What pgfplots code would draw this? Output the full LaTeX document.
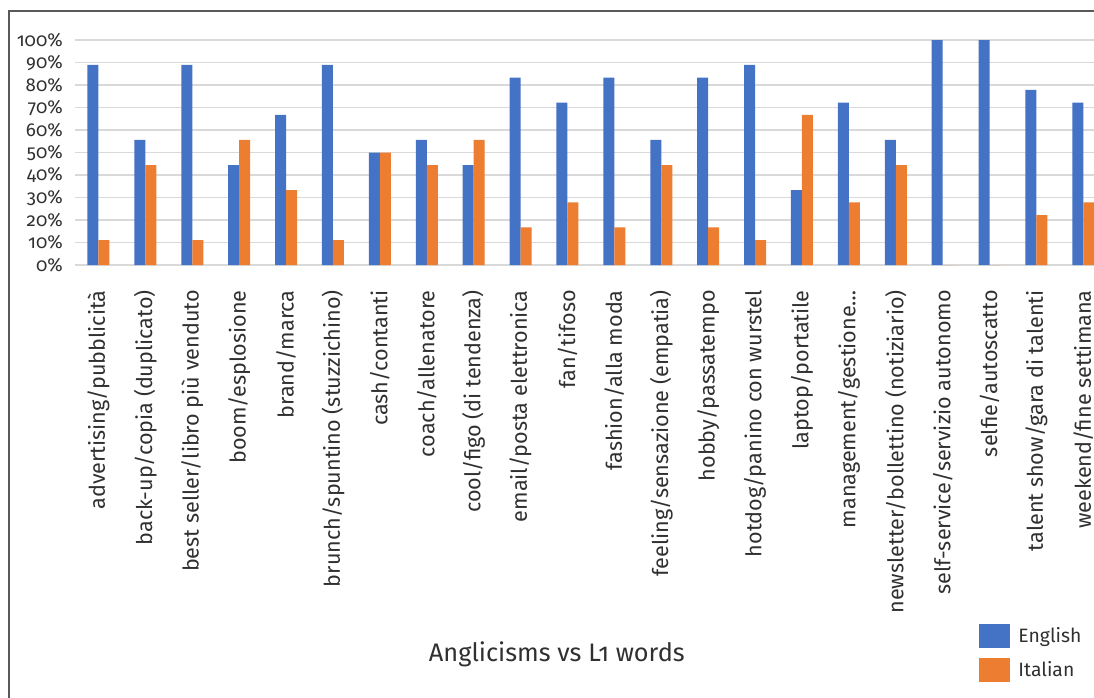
\documentclass[border=0pt]{standalone}
\usepackage{pgfplots}
\pgfplotsset{compat=1.18}
\usepackage{fontspec}
\setmainfont{Fira Sans}[Numbers=OldStyle]
\definecolor{engblue}{HTML}{4472C4}
\definecolor{itaorange}{HTML}{ED7D31}
\definecolor{gridgray}{HTML}{D9D9D9}
\definecolor{framegray}{HTML}{595959}
\definecolor{textgray}{HTML}{303030}
\begin{document}
\begin{tikzpicture}
\path[use as bounding box, clip] (0,0) rectangle (820.5pt,522.75pt);
\draw[framegray, line width=1pt] (6.75pt,-5pt) -- (6.75pt,514.5pt) -- (830pt,514.5pt);
\begin{axis}[
  at={(56.25pt,324pt)}, anchor=south west,
  scale only axis, width=773.85pt, height=168.75pt,
  xmin=-0.5, xmax=21.5, ymin=0, ymax=100,
  ybar=0pt, bar width=8.25pt,
  axis line style={draw=none},
  major tick length=0pt,
  ytick={0,10,...,100},
  ymajorgrids, grid style={gridgray, line width=1.2pt},
  /pgf/number format/assume math mode=true,
  yticklabel={\pgfmathprintnumber{\tick}\%},
  yticklabel style={inner sep=0pt, anchor=east, text=textgray, font=\fontsize{14}{16}\selectfont},
  yticklabel shift=9pt,
  xtick={0,...,21},
  xticklabels={advertising/pubblicità, back-up/copia (duplicato), best seller/libro più venduto, boom/esplosione, brand/marca, brunch/spuntino (stuzzichino), cash/contanti, coach/allenatore, cool/figo (di tendenza), email/posta elettronica, fan/tifoso, fashion/alla moda, feeling/sensazione (empatia), hobby/passatempo, hotdog/panino con wurstel, laptop/portatile, management/gestione\ldots, newsletter/bollettino (notiziario), self-service/servizio autonomo, selfie/autoscatto, talent show/gara di talenti, weekend/fine settimana},
  xticklabel style={rotate=90, anchor=east, inner sep=0pt, text=textgray, font=\fontsize{16.2}{18}\selectfont},
  xticklabel shift=18.75pt,
  xlabel={Anglicisms vs L1 words},
  xlabel style={at={(0.467,-1.76)}, anchor=base, inner sep=0pt, text=textgray, font=\fontsize{19}{22}\selectfont},
  legend cell align=left,
  legend style={at={(0.876,-1.596)}, anchor=north west, draw=none, fill=none, inner sep=0pt,
    row sep=7pt, text=textgray, font=\fontsize{14.5}{16}\selectfont,
    nodes={inner sep=0pt}},
]
\addplot[fill=engblue, draw=none,
  legend image code/.code={\fill[engblue] (0pt,-9pt) rectangle (23.25pt,9pt); \path (29.5pt,0pt);}]
  coordinates {(0,88.9) (1,55.6) (2,88.9) (3,44.4) (4,66.7) (5,88.9) (6,50) (7,55.6) (8,44.4) (9,83.3) (10,72.2) (11,83.3) (12,55.6) (13,83.3) (14,88.9) (15,33.3) (16,72.2) (17,55.6) (18,100) (19,100) (20,77.8) (21,72.2)};
\addplot[fill=itaorange, draw=none,
  legend image code/.code={\fill[itaorange] (0pt,-9pt) rectangle (23.25pt,9pt); \path (29.5pt,0pt);}]
  coordinates {(0,11.1) (1,44.4) (2,11.1) (3,55.6) (4,33.3) (5,11.1) (6,50) (7,44.4) (8,55.6) (9,16.7) (10,27.8) (11,16.7) (12,44.4) (13,16.7) (14,11.1) (15,66.7) (16,27.8) (17,44.4) (18,0) (19,0) (20,22.2) (21,27.8)};
\legend{English, Italian}
\end{axis}
\end{tikzpicture}
\end{document}
